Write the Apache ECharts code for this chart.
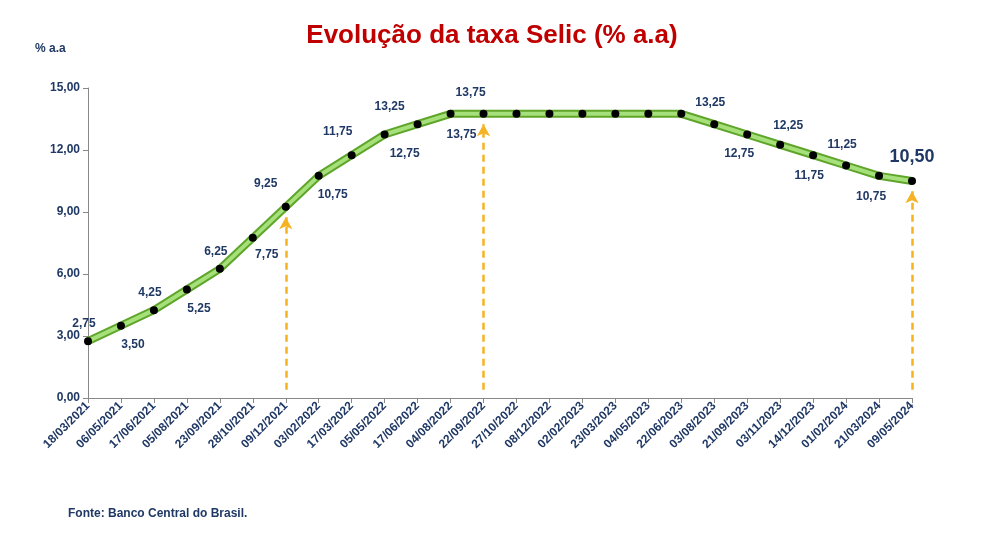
<!DOCTYPE html>
<html><head><meta charset="utf-8">
<script src="https://cdn.jsdelivr.net/npm/echarts@6/dist/echarts.min.js"></script>
<style>html,body{margin:0;padding:0;background:#fff}#c{width:984px;height:552px}</style>
</head><body><div id="c"></div>
<script>
const categories = ["18/03/2021","06/05/2021","17/06/2021","05/08/2021","23/09/2021","28/10/2021","09/12/2021","03/02/2022","17/03/2022","05/05/2022","17/06/2022","04/08/2022","22/09/2022","27/10/2022","08/12/2022","02/02/2023","23/03/2023","04/05/2023","22/06/2023","03/08/2023","21/09/2023","03/11/2023","14/12/2023","01/02/2024","21/03/2024","09/05/2024"];
const selic = [2.75,3.50,4.25,5.25,6.25,7.75,9.25,10.75,11.75,12.75,13.25,13.75,13.75,13.75,13.75,13.75,13.75,13.75,13.75,13.25,12.75,12.25,11.75,11.25,10.75,10.50];
const yTicks = [0,3,6,9,12,15];
// label placement: index -> [position, dx, dy]
const labelPos = {0:['top',-4,-2],1:['bottom',12,4],2:['top',-4,-2],3:['bottom',12,4],4:['top',-4,-2],5:['bottom',14,2],6:['top',-20,-8],7:['bottom',14,4],8:['top',-14,-8],9:['bottom',20,4],10:['top',-28,-2],11:['top',20,-6],12:['bottom',-22,6],19:['top',-4,-6],20:['bottom',-8,4],21:['top',8,-4],22:['bottom',-4,6],23:['top',-4,-6],24:['bottom',-8,6]};
const fmt = v => v.toFixed(2).replace('.',',');
const navy = '#1F3864';
const data = selic.map((v,i)=>{
  const d = {value:v};
  if (labelPos[i]) d.label = {show:true, position:labelPos[i][0], offset:[labelPos[i][1],labelPos[i][2]]};
  if (i===25) d.label = {show:true, position:'top', offset:[0,-6], fontSize:18};
  return d;
});
const arrows = [[6,9.25],[12,13.75],[25,10.5]];
const chart = echarts.init(document.getElementById('c'));
chart.setOption({
  animation:false,
  title:{text:'Evolução da taxa Selic (% a.a)',left:'center',top:18,textStyle:{fontFamily:'Liberation Sans',fontSize:26,fontWeight:'bold',color:'#C00000'}},
  graphic:[
    {type:'text',left:35,top:43,style:{text:'% a.a',font:'bold 12px Liberation Sans',fill:navy}},
    {type:'text',left:68,top:508,style:{text:'Fonte: Banco Central do Brasil.',font:'bold 12px Liberation Sans',fill:navy}}
  ],
  grid:{left:88,right:72,top:88,bottom:154},
  xAxis:{type:'category',data:categories,boundaryGap:false,
    axisLine:{lineStyle:{color:'#888'}},axisTick:{show:true,lineStyle:{color:'#888'}},
    axisLabel:{rotate:45,interval:0,color:navy,fontWeight:'bold',fontSize:12,fontFamily:'Liberation Sans',margin:6}},
  yAxis:{type:'value',min:0,max:15,interval:3,
    axisLine:{show:true,lineStyle:{color:'#888'}},axisTick:{show:true,lineStyle:{color:'#888'}},splitLine:{show:false},
    axisLabel:{color:navy,fontWeight:'bold',fontSize:12,fontFamily:'Liberation Sans',formatter:v=>yTicks.includes(v)?fmt(v):''}},
  series:[
    {type:'line',data:selic,symbol:'none',lineStyle:{color:'#5FA52A',width:8},z:1,silent:true},
    {type:'line',data:data,symbol:'circle',symbolSize:8,itemStyle:{color:'#000'},
     lineStyle:{color:'#A6E07A',width:4},z:2,
     label:{show:false,color:navy,fontWeight:'bold',fontSize:12,fontFamily:'Liberation Sans',formatter:p=>fmt(p.value)},
     markLine:{silent:true,symbol:['none','arrow'],symbolSize:[10,12],label:{show:false},
       lineStyle:{color:'#F5B324',type:[7,5],width:2.5},
       data:arrows.map(a=>[{coord:[a[0],0.4]},{coord:[a[0],a[1]-0.5]}])}}
  ]
});
</script></body></html>
